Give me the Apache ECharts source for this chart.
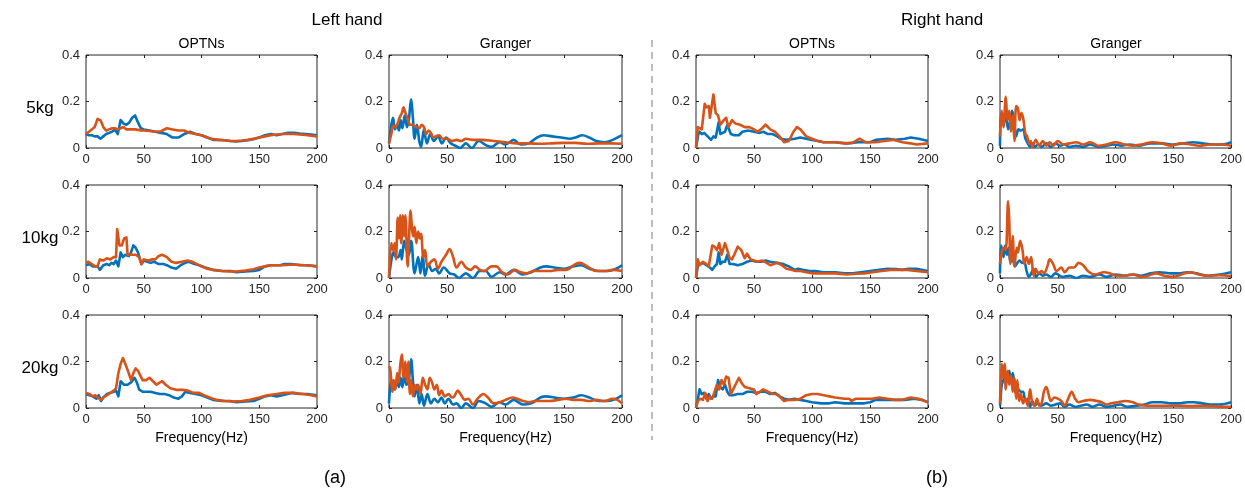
<!DOCTYPE html>
<html><head><meta charset="utf-8">
<script src="https://cdn.jsdelivr.net/npm/echarts@6/dist/echarts.min.js"></script>
<style>html,body{margin:0;padding:0;background:#fff}#c{width:1245px;height:489px}</style>
</head><body><div id="c"></div>
<script>
// ---- Labels ----
const handTitles = ['Left hand', 'Right hand'];
const methodTitles = ['OPTNs', 'Granger', 'OPTNs', 'Granger'];
const loadLabels = ['5kg', '10kg', '20kg'];
const xTicks = [0, 50, 100, 150, 200];
const yTicks = [0, 0.2, 0.4];
const xName = 'Frequency(Hz)';
const panelTags = ['(a)', '(b)'];

// ---- Data: [frequency (Hz), value] ----
// Row 5kg
const L5_OPTNs_blue = [[0,0.06],[2.5,0.055],[5,0.055],[7.5,0.05],[10,0.05],[12.5,0.04],[15,0.05],[17.5,0.06],[20,0.065],[22.5,0.07],[25,0.08],[27.5,0.06],[30,0.12],[32.5,0.105],[35,0.1],[37.5,0.11],[40,0.13],[42.5,0.14],[45,0.11],[47.5,0.085],[50,0.08],[55,0.075],[60,0.07],[65,0.065],[70,0.06],[75,0.045],[80,0.045],[85,0.06],[90,0.07],[95,0.06],[100,0.055],[105,0.045],[110,0.035],[115,0.035],[120,0.033],[125,0.03],[130,0.028],[135,0.03],[140,0.033],[145,0.038],[150,0.045],[155,0.055],[160,0.06],[165,0.055],[170,0.06],[175,0.065],[180,0.065],[185,0.062],[190,0.06],[195,0.058],[200,0.055]];
const L5_OPTNs_orange = [[0,0.06],[2.5,0.07],[5,0.08],[7.5,0.09],[10,0.125],[12.5,0.12],[15,0.09],[17.5,0.075],[20,0.08],[22.5,0.085],[25,0.085],[27.5,0.08],[30,0.085],[32.5,0.09],[35,0.08],[37.5,0.08],[40,0.08],[42.5,0.08],[45,0.078],[47.5,0.075],[50,0.075],[55,0.073],[60,0.07],[65,0.072],[70,0.085],[75,0.08],[80,0.075],[85,0.075],[90,0.065],[95,0.06],[100,0.055],[105,0.045],[110,0.038],[115,0.035],[120,0.033],[125,0.03],[130,0.03],[135,0.032],[140,0.035],[145,0.04],[150,0.045],[155,0.05],[160,0.055],[165,0.058],[170,0.06],[175,0.06],[180,0.06],[185,0.058],[190,0.056],[195,0.053],[200,0.05]];
const L5_Granger_blue = [[0,0.02],[2,0.1],[3.5,0.13],[5,0.08],[7,0.1],[8.5,0.075],[10,0.12],[11.5,0.085],[13.5,0.14],[15.5,0.09],[17,0.12],[19,0.21],[20.5,0.13],[22,0.04],[24,0.1],[26,0.03],[27.5,0.005],[30,0.08],[32.5,0.02],[35.5,0.06],[38.5,0.03],[42,0.05],[45.5,0.02],[49,0.045],[53,0.02],[57,0.01],[61,0],[66,0.02],[71,0],[77,0.03],[84,0.01],[88,0.005],[95,0.025],[100,0.015],[107,0.035],[113,0.015],[120,0.02],[127,0.045],[133,0.055],[140,0.05],[148,0.045],[155,0.04],[160,0.045],[166,0.055],[172,0.045],[178,0.03],[185,0.025],[192,0.035],[200,0.055]];
const L5_Granger_orange = [[0,0.02],[2,0.06],[3.5,0.095],[5,0.09],[7,0.1],[9,0.13],[11,0.15],[12.5,0.175],[13.5,0.16],[15,0.14],[16.5,0.12],[18,0.1],[20,0.1],[22,0.095],[24,0.09],[26,0.085],[28,0.1],[30,0.09],[32,0.06],[34,0.075],[36,0.065],[38,0.045],[40,0.05],[43,0.055],[46,0.04],[50,0.04],[54,0.03],[58,0.035],[62,0.03],[66,0.04],[72,0.035],[80,0.035],[90,0.03],[100,0.025],[110,0.02],[120,0.02],[130,0.018],[140,0.02],[150,0.022],[160,0.022],[170,0.018],[180,0.02],[190,0.02],[200,0.018]];
const R5_OPTNs_blue = [[0,0],[2,0.06],[3,0.07],[5,0.06],[7,0.065],[10,0.05],[13,0.035],[15,0.05],[17,0.045],[19.5,0.11],[21,0.06],[23,0.065],[25,0.07],[27,0.1],[30,0.06],[33,0.055],[37,0.055],[40,0.07],[45,0.075],[50,0.07],[55,0.065],[58,0.07],[62,0.06],[66,0.06],[70,0.05],[73,0.04],[78,0.035],[85,0.04],[90,0.045],[95,0.04],[100,0.035],[105,0.03],[110,0.025],[120,0.025],[130,0.02],[140,0.025],[150,0.025],[155,0.035],[165,0.04],[172,0.035],[180,0.04],[185,0.045],[192,0.04],[200,0.03]];
const R5_OPTNs_orange = [[0,0],[1.5,0.09],[3,0.085],[5,0.08],[7.5,0.19],[9,0.175],[11,0.18],[12,0.13],[13.5,0.18],[15,0.23],[17,0.15],[19,0.14],[21,0.1],[24,0.12],[26,0.13],[28,0.09],[31,0.12],[34,0.105],[38,0.1],[42,0.09],[46,0.09],[50,0.08],[53,0.07],[57,0.085],[60,0.1],[64,0.08],[68,0.07],[72,0.05],[76,0.025],[80,0.03],[84,0.07],[87,0.09],[90,0.08],[95,0.05],[100,0.04],[105,0.03],[110,0.025],[120,0.025],[128,0.02],[135,0.022],[141,0.04],[146,0.025],[155,0.025],[162,0.03],[170,0.035],[178,0.025],[185,0.02],[190,0.015],[200,0.02]];
const R5_Granger_blue = [[0,0.01],[1,0.15],[3,0.1],[5,0.15],[7,0.08],[9,0.12],[10.5,0.16],[12,0.12],[14,0.05],[16,0.08],[18,0.075],[20,0.08],[22,0.04],[24,0.02],[26,0.005],[28,0.02],[30,0.005],[33,0.015],[36,0.005],[40,0.02],[44,0.005],[48,0.02],[52,0.01],[56,0.015],[60,0.005],[66,0.01],[72,0.005],[78,0.015],[85,0.005],[92,0.01],[98,0.015],[105,0.01],[112,0.015],[120,0.01],[130,0.02],[140,0.02],[150,0.015],[160,0.02],[167,0.025],[175,0.02],[185,0.015],[192,0.015],[200,0.025]];
const R5_Granger_orange = [[0,0.05],[1.5,0.16],[3,0.09],[5,0.22],[6.5,0.12],[8,0.16],[9.5,0.07],[11,0.14],[12.5,0.03],[14,0.18],[15.5,0.17],[17,0.12],[18.5,0.15],[20,0.13],[22,0.06],[23.5,0.05],[25,0.02],[26.5,0.03],[28,0.005],[31,0.035],[34,0.01],[37,0.03],[40,0.01],[43,0.025],[46,0.01],[50,0.03],[55,0.015],[60,0.02],[66,0.025],[72,0.015],[78,0.025],[85,0.01],[92,0.015],[100,0.025],[108,0.015],[115,0.01],[122,0.015],[132,0.025],[140,0.02],[148,0.01],[156,0.02],[165,0.015],[172,0.01],[182,0.015],[192,0.015],[200,0.01]];
// Row 10kg
const L10_OPTNs_blue = [[0,0.055],[3,0.06],[6,0.05],[10,0.05],[12,0.035],[15,0.055],[18,0.06],[20,0.055],[22,0.065],[24,0.06],[26,0.075],[28,0.05],[30,0.11],[32,0.09],[34,0.1],[37,0.095],[39,0.11],[41,0.14],[43,0.13],[45,0.11],[48,0.06],[50,0.075],[53,0.07],[56,0.065],[59,0.07],[63,0.06],[67,0.06],[70,0.055],[74,0.045],[78,0.04],[82,0.055],[86,0.065],[89,0.07],[94,0.06],[98,0.055],[103,0.045],[110,0.035],[118,0.03],[125,0.03],[130,0.025],[138,0.028],[145,0.03],[150,0.035],[155,0.05],[160,0.055],[168,0.055],[172,0.06],[178,0.06],[185,0.055],[192,0.055],[200,0.05]];
const L10_OPTNs_orange = [[0,0.065],[2,0.07],[5,0.06],[8,0.05],[10,0.05],[12,0.08],[15,0.075],[18,0.085],[21,0.08],[24,0.09],[26,0.09],[27,0.21],[29,0.14],[31,0.14],[33,0.17],[35,0.175],[36,0.1],[40,0.1],[43,0.1],[46,0.09],[48,0.06],[50,0.08],[54,0.075],[57,0.08],[60,0.08],[63,0.095],[66,0.1],[70,0.09],[74,0.07],[78,0.065],[83,0.07],[88,0.075],[92,0.07],[96,0.06],[100,0.05],[105,0.04],[110,0.035],[118,0.03],[125,0.028],[130,0.028],[138,0.032],[145,0.038],[150,0.045],[155,0.05],[160,0.055],[170,0.055],[180,0.058],[190,0.055],[200,0.05]];
const L10_Granger_blue = [[0,0],[2.5,0.09],[4,0.11],[6,0.09],[8,0.09],[10,0.12],[11,0.08],[13,0.16],[15,0.12],[17,0.1],[19,0.16],[22,0.02],[25,0.09],[27,0.02],[29,0.1],[31,0.01],[34,0.06],[37,0.03],[40,0.04],[43,0.02],[47,0.045],[52,0.02],[56,0.015],[60,0],[66,0.02],[72,0],[78,0.03],[83,0.03],[88,0.005],[95,0.025],[100,0.015],[107,0.035],[115,0.015],[122,0.025],[130,0.045],[135,0.05],[142,0.045],[150,0.04],[158,0.05],[165,0.055],[172,0.04],[180,0.03],[188,0.03],[195,0.04],[200,0.055]];
const L10_Granger_orange = [[0,0],[2,0.15],[3.5,0.12],[5,0.15],[6,0.08],[7.5,0.26],[8.5,0.17],[9.5,0.27],[10.5,0.15],[12,0.27],[13,0.18],[14,0.27],[16,0.05],[17,0.15],[18.5,0.29],[20,0.2],[21,0.18],[22,0.22],[23.5,0.15],[25,0.2],[26.5,0.17],[27.5,0.19],[29.5,0.09],[31,0.12],[33,0.05],[36,0.07],[39,0.08],[42,0.04],[45,0.07],[49,0.1],[52,0.125],[55,0.09],[58,0.045],[62,0.07],[66,0.045],[70,0.035],[74,0.05],[78,0.035],[82,0.03],[88,0.05],[92,0.05],[97,0.025],[102,0.015],[108,0.035],[113,0.025],[118,0.02],[124,0.03],[130,0.03],[138,0.03],[145,0.035],[152,0.035],[160,0.06],[164,0.065],[170,0.05],[178,0.03],[185,0.03],[192,0.035],[200,0.03]];
const R10_OPTNs_blue = [[0,0],[2,0.065],[4,0.06],[6,0.065],[9,0.055],[12,0.045],[14,0.035],[16,0.05],[18,0.06],[19.5,0.11],[21,0.06],[23,0.07],[25,0.07],[27,0.1],[29,0.06],[32,0.06],[36,0.055],[40,0.06],[44,0.07],[48,0.075],[52,0.07],[56,0.07],[60,0.075],[64,0.07],[70,0.065],[75,0.06],[80,0.05],[85,0.035],[88,0.04],[92,0.035],[98,0.03],[103,0.03],[110,0.025],[120,0.025],[128,0.02],[135,0.02],[142,0.025],[150,0.03],[158,0.035],[165,0.04],[172,0.038],[178,0.035],[183,0.04],[190,0.04],[200,0.03]];
const R10_OPTNs_orange = [[0,0],[1.5,0.08],[3,0.055],[6,0.07],[9,0.06],[11,0.05],[14,0.14],[16,0.135],[18,0.12],[20,0.15],[22,0.1],[25,0.15],[27,0.12],[29,0.085],[31,0.08],[33,0.1],[36,0.135],[39,0.12],[42,0.085],[44,0.105],[47,0.08],[50,0.075],[53,0.07],[57,0.075],[61,0.065],[64,0.055],[67,0.06],[70,0.065],[74,0.055],[78,0.04],[82,0.035],[86,0.03],[90,0.03],[95,0.025],[100,0.02],[110,0.02],[120,0.02],[130,0.015],[138,0.018],[145,0.02],[152,0.025],[160,0.03],[168,0.035],[175,0.035],[182,0.035],[190,0.03],[200,0.025]];
const R10_Granger_blue = [[0,0.02],[1,0.14],[3,0.09],[4.5,0.14],[6,0.1],[7.5,0.13],[9,0.07],[11,0.08],[13,0.05],[15,0.065],[17,0.075],[19,0.065],[21,0.07],[23,0.03],[25,0.005],[27,0.02],[29,0.04],[31,0.005],[34,0.02],[37,0.01],[40,0.015],[44,0.005],[48,0.02],[54,0.005],[60,0.01],[66,0],[72,0.01],[78,0.005],[86,0.015],[92,0.005],[100,0.015],[108,0.01],[115,0.015],[122,0.01],[130,0.02],[138,0.025],[148,0.02],[155,0.02],[162,0.025],[170,0.02],[180,0.01],[190,0.015],[200,0.025]];
const R10_Granger_orange = [[0,0.06],[2,0.12],[3.5,0.13],[5,0.12],[7,0.33],[8,0.25],[9,0.06],[10,0.1],[11,0.18],[12.5,0.05],[14.5,0.13],[15.5,0.11],[17.5,0.16],[19.5,0.12],[21,0.06],[23,0.09],[25,0.06],[27,0.09],[29,0.01],[31,0.04],[33,0.02],[36,0.03],[38,0.02],[41,0.05],[43,0.08],[46,0.06],[49,0.03],[53,0.045],[56,0.025],[60,0.045],[64,0.045],[68,0.065],[72,0.055],[76,0.03],[82,0.015],[90,0.025],[95,0.02],[100,0.01],[108,0.01],[115,0.015],[122,0.005],[128,0.01],[135,0.02],[142,0.01],[150,0.005],[160,0.02],[165,0.025],[172,0.015],[180,0.01],[190,0.012],[200,0.008]];
// Row 20kg
const L20_OPTNs_blue = [[0,0.06],[3,0.055],[6,0.05],[9,0.04],[11,0.055],[13,0.03],[15,0.045],[18,0.06],[21,0.065],[24,0.07],[26,0.075],[28,0.05],[30,0.115],[33,0.1],[36,0.1],[39,0.11],[42,0.13],[44,0.11],[46,0.08],[49,0.07],[52,0.07],[56,0.07],[60,0.065],[64,0.06],[68,0.06],[72,0.055],[76,0.045],[80,0.04],[83,0.05],[86,0.07],[90,0.065],[95,0.06],[100,0.055],[105,0.045],[110,0.035],[118,0.03],[125,0.03],[130,0.025],[138,0.028],[145,0.03],[150,0.04],[155,0.05],[160,0.055],[165,0.05],[170,0.055],[178,0.065],[185,0.06],[192,0.06],[200,0.055]];
const L20_OPTNs_orange = [[0,0.065],[3,0.06],[6,0.05],[8,0.055],[10,0.045],[13,0.035],[15,0.045],[18,0.055],[21,0.065],[24,0.075],[26,0.085],[28,0.15],[30,0.19],[32,0.215],[34,0.19],[37,0.15],[39,0.12],[41,0.15],[43,0.17],[45,0.16],[49,0.12],[52,0.12],[55,0.13],[58,0.115],[61,0.1],[64,0.11],[66,0.115],[69,0.1],[73,0.085],[78,0.078],[84,0.078],[88,0.075],[93,0.065],[98,0.065],[102,0.055],[107,0.045],[113,0.035],[120,0.03],[127,0.028],[135,0.03],[142,0.035],[150,0.045],[157,0.055],[165,0.06],[172,0.065],[180,0.065],[188,0.06],[195,0.055],[200,0.05]];
const L20_Granger_blue = [[0,0.02],[2,0.12],[3.5,0.1],[5,0.08],[7,0.12],[8.5,0.09],[10,0.13],[11.5,0.09],[13,0.14],[15,0.1],[17,0.12],[19,0.21],[20.5,0.12],[22,0.05],[24,0.1],[26,0.02],[28,0.06],[30,0.01],[33,0.06],[36,0.02],[39,0.04],[42,0.025],[45,0.045],[48,0.02],[51,0.04],[55,0.015],[58,0.02],[62,0],[66,0.02],[72,0],[77,0.03],[83,0.02],[88,0.005],[95,0.025],[100,0.015],[107,0.035],[115,0.015],[122,0.02],[130,0.045],[135,0.05],[142,0.045],[150,0.04],[158,0.045],[165,0.055],[172,0.045],[180,0.03],[188,0.03],[195,0.04],[200,0.055]];
const L20_Granger_orange = [[0,0.18],[1,0.17],[3,0.07],[4,0.12],[5.5,0.08],[7,0.15],[8,0.11],[10,0.2],[11,0.23],[12.5,0.13],[14,0.2],[15.5,0.11],[16.5,0.2],[18,0.06],[19,0.12],[20.5,0.05],[22,0.1],[23.5,0.08],[25,0.1],[27,0.06],[29,0.13],[31,0.1],[33,0.08],[35,0.13],[37,0.11],[39,0.08],[41,0.1],[43,0.055],[45,0.075],[48,0.05],[51,0.06],[54,0.045],[56,0.05],[59,0.075],[62,0.055],[65,0.035],[68,0.04],[72,0.015],[76,0.04],[81,0.06],[85,0.045],[90,0.02],[95,0.025],[100,0.035],[106,0.045],[110,0.04],[115,0.03],[120,0.025],[126,0.03],[132,0.03],[138,0.03],[145,0.035],[152,0.04],[158,0.035],[165,0.035],[172,0.03],[178,0.035],[185,0.03],[192,0.04],[196,0.035],[200,0.02]];
const R20_OPTNs_blue = [[0,0],[1.5,0.035],[3,0.08],[5,0.06],[7,0.065],[9,0.04],[11,0.06],[13,0.04],[15,0.05],[17,0.05],[19,0.12],[21,0.09],[23,0.08],[25,0.1],[27,0.07],[29,0.055],[32,0.055],[36,0.06],[40,0.06],[44,0.07],[48,0.07],[52,0.065],[56,0.07],[60,0.07],[64,0.06],[68,0.065],[72,0.05],[76,0.04],[80,0.035],[85,0.04],[90,0.035],[95,0.03],[100,0.025],[108,0.02],[115,0.02],[120,0.025],[128,0.02],[135,0.02],[145,0.02],[150,0.025],[155,0.035],[162,0.035],[170,0.035],[180,0.035],[188,0.04],[195,0.035],[200,0.025]];
const R20_OPTNs_orange = [[0,0],[1.5,0.03],[4,0.04],[6,0.035],[8,0.065],[10,0.03],[12,0.05],[14,0.04],[16,0.07],[18,0.1],[20,0.08],[22,0.12],[24,0.1],[26,0.135],[28,0.13],[30,0.06],[32,0.08],[34,0.1],[37,0.13],[39,0.11],[42,0.09],[46,0.085],[50,0.08],[52,0.06],[55,0.07],[58,0.08],[62,0.07],[66,0.06],[70,0.06],[73,0.045],[76,0.03],[80,0.035],[85,0.035],[90,0.04],[95,0.055],[100,0.06],[105,0.06],[110,0.055],[115,0.05],[120,0.045],[128,0.04],[132,0.04],[134,0.03],[138,0.04],[145,0.04],[152,0.04],[158,0.045],[165,0.04],[172,0.035],[178,0.035],[185,0.045],[192,0.04],[200,0.025]];
const R20_Granger_blue = [[0,0.01],[0.5,0.04],[1.5,0.1],[3,0.12],[5,0.14],[6.5,0.12],[8,0.16],[9.5,0.11],[11,0.15],[12.5,0.1],[14,0.06],[16,0.08],[18,0.07],[20,0.07],[22,0.03],[24,0.04],[26,0.005],[28,0.03],[30,0.01],[33,0.02],[36,0.01],[40,0.02],[44,0.01],[48,0.015],[52,0.02],[56,0.005],[60,0.015],[65,0.005],[70,0.01],[75,0.015],[80,0.005],[86,0.015],[92,0.005],[98,0.01],[104,0.015],[110,0.005],[118,0.01],[125,0.015],[132,0.025],[140,0.025],[148,0.02],[155,0.02],[162,0.025],[168,0.025],[175,0.02],[182,0.015],[190,0.015],[200,0.025]];
const R20_Granger_orange = [[0,0.02],[1.5,0.19],[2.5,0.13],[4,0.19],[5,0.08],[6.5,0.16],[8,0.1],[9.5,0.14],[11,0.07],[12.5,0.13],[14,0.04],[15,0.12],[16.5,0.03],[18,0.06],[20,0.02],[22,0.04],[24,0.01],[26,0.08],[28,0.02],[30,0.01],[32,0.04],[34,0.01],[36,0.02],[38,0.07],[40,0.09],[42,0.06],[44,0.03],[47,0.045],[50,0.04],[53,0.03],[56,0.01],[59,0.04],[62,0.07],[65,0.04],[68,0.025],[72,0.03],[78,0.035],[84,0.03],[88,0.025],[92,0.015],[96,0.02],[102,0.025],[108,0.03],[115,0.025],[120,0.015],[128,0.01],[135,0.01],[145,0.01],[155,0.01],[165,0.008],[175,0.01],[185,0.008],[192,0.005],[200,0.005]];

const panels = [
  [L5_OPTNs_blue, L5_OPTNs_orange], [L5_Granger_blue, L5_Granger_orange], [R5_OPTNs_blue, R5_OPTNs_orange], [R5_Granger_blue, R5_Granger_orange],
  [L10_OPTNs_blue, L10_OPTNs_orange], [L10_Granger_blue, L10_Granger_orange], [R10_OPTNs_blue, R10_OPTNs_orange], [R10_Granger_blue, R10_Granger_orange],
  [L20_OPTNs_blue, L20_OPTNs_orange], [L20_Granger_blue, L20_Granger_orange], [R20_OPTNs_blue, R20_OPTNs_orange], [R20_Granger_blue, R20_Granger_orange]
];

// ---- Layout ----
const colLeft = [86, 389, 696, 1000];
const colWidth = [231, 233, 232, 232];
const rowTop = [55, 185, 315];
const plotH = 93;
const BLUE = '#0072BD', ORANGE = '#D95319', AX = '#262626';
const FONT = '"Liberation Sans", Arial, Helvetica, sans-serif';

const grids = [], xAxes = [], yAxes = [], series = [];
panels.forEach((p, i) => {
  const r = Math.floor(i / 4), c = i % 4;
  grids.push({left: colLeft[c], top: rowTop[r], width: colWidth[c], height: plotH, show: true, borderColor: AX, borderWidth: 1, containLabel: false});
  const tick = {show: true, inside: true, length: 3, lineStyle: {color: AX, width: 1}};
  const xBase = {gridIndex: i, type: 'value', min: xTicks[0], max: xTicks[xTicks.length-1], interval: 50,
    axisLine: {show: false, onZero: false}, splitLine: {show: false}, axisTick: tick};
  xAxes.push(Object.assign({}, xBase, {position: 'bottom',
    axisLabel: {show: true, color: AX, fontSize: 13, fontFamily: FONT, margin: 5}}));
  xAxes.push(Object.assign({}, xBase, {position: 'top', axisLabel: {show: false}}));
  const yBase = {gridIndex: i, type: 'value', min: yTicks[0], max: yTicks[yTicks.length-1], interval: 0.2,
    axisLine: {show: false, onZero: false}, splitLine: {show: false}, axisTick: tick};
  yAxes.push(Object.assign({}, yBase, {position: 'left',
    axisLabel: {show: true, color: AX, fontSize: 13, fontFamily: FONT, margin: 6,
      formatter: v => (v === 0 ? '0' : v.toFixed(1))}}));
  yAxes.push(Object.assign({}, yBase, {position: 'right', axisLabel: {show: false}}));
  const smooth = (c % 2 === 1) ? 0.35 : false;
  [[p[0], BLUE], [p[1], ORANGE]].forEach(([d, col]) => {
    series.push({type: 'line', xAxisIndex: i * 2, yAxisIndex: i * 2, data: d, showSymbol: false, symbol: 'none',
      smooth: smooth, lineStyle: {color: col, width: 2.6, join: 'round'}, itemStyle: {color: col}, animation: false, clip: true});
  });
});

const graphic = [];
function centered(cx, cy, text, size) {
  graphic.push({type: 'text', x: cx, y: cy, style: {text, fill: '#000', fontSize: size, fontFamily: FONT, align: 'center', verticalAlign: 'middle'}});
}
centered(347, 20, handTitles[0], 17);
centered(942, 20, handTitles[1], 17);
methodTitles.forEach((t, c) => centered(colLeft[c] + colWidth[c] / 2, 44, t, 14));
loadLabels.forEach((t, r) => centered(40, rowTop[r] + 53, t, 17));
colLeft.forEach((l, c) => centered(l + colWidth[c] / 2, 438, xName, 14));
centered(335, 478, panelTags[0], 18);
centered(937, 478, panelTags[1], 18);
graphic.push({type: 'line', shape: {x1: 652, y1: 40, x2: 652, y2: 440}, style: {stroke: '#9a9a9a', lineWidth: 1.3, lineDash: [7, 5]}});

const chart = echarts.init(document.getElementById('c'), null, {renderer: 'canvas'});
chart.setOption({animation: false, backgroundColor: '#fff', grid: grids, xAxis: xAxes, yAxis: yAxes, series, graphic});
</script></body></html>
